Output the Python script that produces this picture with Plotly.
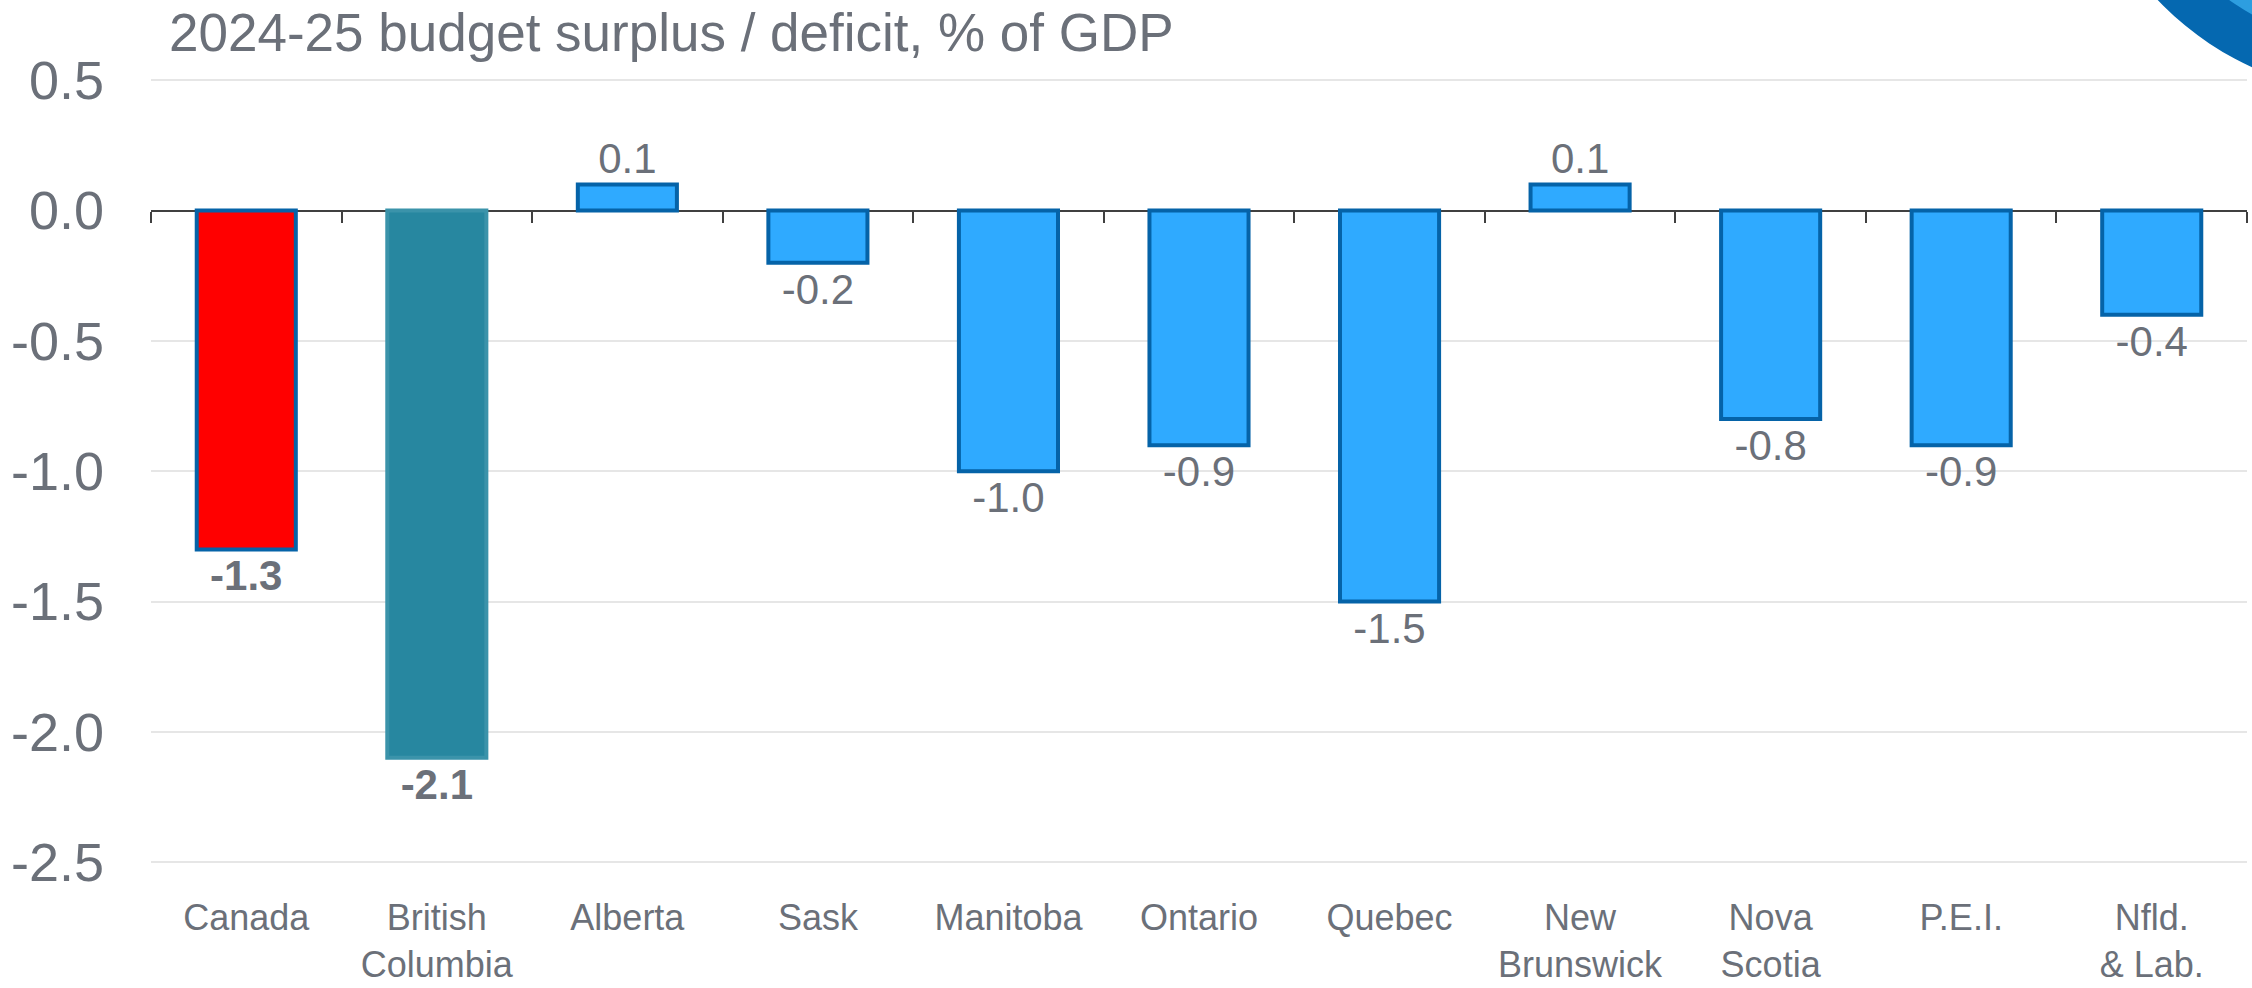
import plotly.graph_objects as go

regions = ["Canada", "British<br>Columbia", "Alberta", "Sask", "Manitoba", "Ontario",
           "Quebec", "New<br>Brunswick", "Nova<br>Scotia", "P.E.I.", "Nfld.<br>& Lab."]
balance = [-1.3, -2.1, 0.1, -0.2, -1.0, -0.9, -1.5, 0.1, -0.8, -0.9, -0.4]
bold_labels = ["Canada", "British<br>Columbia"]

y_ticks = [0.5, 0.0, -0.5, -1.0, -1.5, -2.0, -2.5]

TEXT = "#6b7079"
FONT = "Liberation Sans, Arial, sans-serif"

fill = []
edge = []
labels = []
for r, v in zip(regions, balance):
    if r == "Canada":
        fill.append("#ff0000")
        edge.append("#0563a8")
    elif r.startswith("British"):
        fill.append("#2787a0")
        edge.append("#3b93aa")
    else:
        fill.append("#2faaff")
        edge.append("#0563a8")
    txt = f"{v:.1f}"
    labels.append(f"<b>{txt}</b>" if r in bold_labels else txt)

fig = go.Figure()

fig.add_trace(
    go.Bar(
        x=regions,
        y=balance,
        marker=dict(color=fill, line=dict(color=edge, width=4)),
        width=0.52,
        text=labels,
        textposition="outside",
        textfont=dict(size=42, color=TEXT, family=FONT),
        cliponaxis=False,
        showlegend=False,
    )
)

# invisible trace so the tick-only axis at zero is drawn
n = len(regions)
fig.add_trace(
    go.Scatter(x=[-0.5, n - 0.5], y=[0, 0], xaxis="x2", mode="lines",
               line=dict(color="rgba(0,0,0,0)"), showlegend=False, hoverinfo="skip")
)

y_min, y_max = -2.561, 0.551
zero_pos = (0 - y_min) / (y_max - y_min)

fig.update_layout(
    width=2252,
    height=988,
    margin=dict(l=151, r=5, t=67, b=110, autoexpand=False),
    plot_bgcolor="white",
    paper_bgcolor="white",
    bargap=0.48,
    font=dict(family=FONT, color=TEXT),
    title=dict(
        text="2024-25 budget surplus / deficit, % of GDP",
        font=dict(size=53, color=TEXT, family=FONT),
        xref="paper", x=0.0086, xanchor="left",
        yref="container", y=0.967, yanchor="middle",
    ),
    xaxis=dict(
        showgrid=False,
        showline=False,
        ticks="",
        tickfont=dict(size=36, color=TEXT),
        ticklabelstandoff=15,
        automargin=False,
    ),
    xaxis2=dict(
        overlaying="x",
        anchor="free",
        position=zero_pos,
        range=[-0.5, n - 0.5],
        tickvals=[i - 0.5 for i in range(n + 1)],
        showticklabels=False,
        ticks="outside",
        ticklen=11,
        tickwidth=2,
        tickcolor="#404040",
        showgrid=False,
        showline=False,
        zeroline=False,
        automargin=False,
    ),
    yaxis=dict(
        range=[y_min, y_max],
        tickvals=y_ticks,
        ticktext=[f"{t:.1f}" for t in y_ticks],
        tickfont=dict(size=54, color=TEXT),
        gridcolor="#e6e6e6",
        gridwidth=2,
        zeroline=True,
        zerolinecolor="#404040",
        zerolinewidth=2,
        showline=False,
        ticklabelstandoff=46,
        automargin=False,
    ),
)

# decorative logo arc, top right
cx, cy = (2378.7 - 151) / 2096, (878 + 210.2) / 811
for r, col in [(305, "#0568b0"), (258, "#2d9ee0")]:
    fig.add_shape(
        type="circle", xref="paper", yref="paper",
        x0=cx - r / 2096, x1=cx + r / 2096, y0=cy - r / 811, y1=cy + r / 811,
        fillcolor=col, line=dict(width=0), layer="above",
    )

fig.write_html("out.html", config={"displayModeBar": False},
               post_script="document.body.style.margin='0';")
